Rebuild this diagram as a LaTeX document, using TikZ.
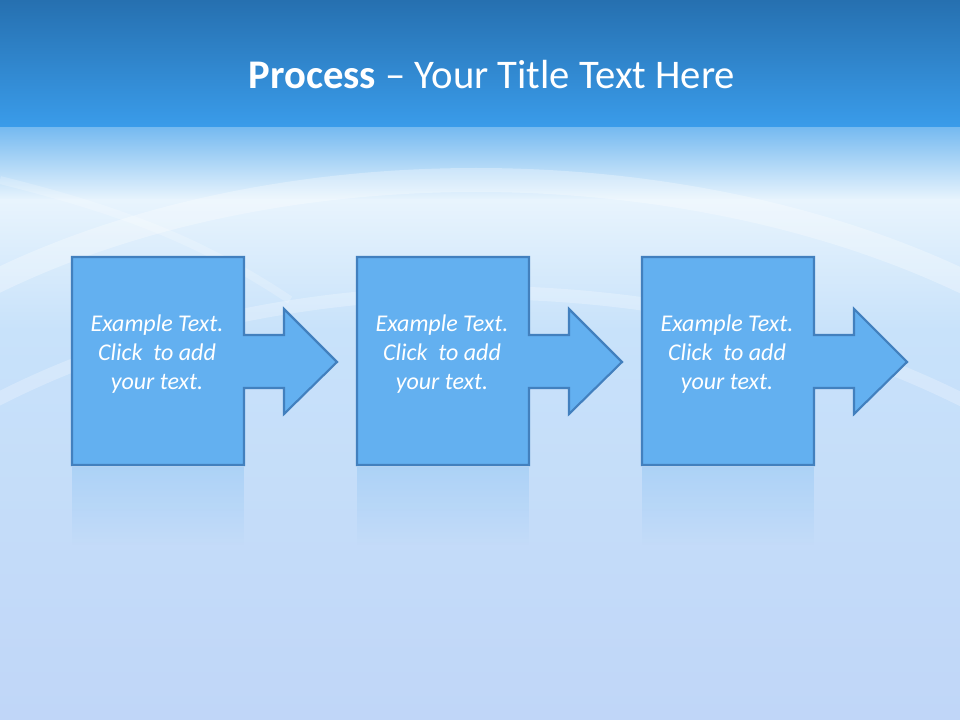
\documentclass[tikz,border=0pt]{standalone}
\usepackage{fontspec}
\setmainfont{Carlito}
\usetikzlibrary{positioning,fadings}

\definecolor{barTop}{RGB}{38,112,176}
\definecolor{barBottom}{RGB}{58,156,234}
\definecolor{skyPale}{RGB}{232,244,253}
\definecolor{skyMid}{RGB}{200,226,250}
\definecolor{skyLow}{RGB}{192,214,248}
\definecolor{stepFill}{RGB}{99,176,240}
\definecolor{stepLine}{RGB}{66,128,190}

\begin{document}
\begin{tikzpicture}[
    x=0.75pt, y=-0.75pt,
    stepshape/.style={fill=stepFill, draw=stepLine, line width=1.6pt, line join=miter},
    mirror/.style={fill=stepFill, opacity=0.25, path fading=south},
    steptext/.style={align=center, text=white, font=\fontsize{18}{21.7}\selectfont\itshape},
    title/.style={text=white, font=\fontsize{30.5}{36}\selectfont}
]
    % Background
    \useasboundingbox (0,0) rectangle (960,720);
    \shade[top color=barBottom!70!white, bottom color=skyPale] (0,127) rectangle (960,200);
    \shade[top color=skyPale, bottom color=skyMid] (0,200) rectangle (960,330);
    \shade[top color=skyMid, bottom color=skyLow] (0,330) rectangle (960,720);
    \shade[top color=barTop, bottom color=barBottom] (0,0) rectangle (960,127);

    % Soft arcs
    \draw[white, line width=18pt, opacity=0.3] (-40,300) .. controls (250,140) and (700,140) .. (1000,300);
    \draw[white, line width=10pt, opacity=0.25] (-40,420) .. controls (250,250) and (700,250) .. (1000,420);
    \draw[white, line width=6pt, opacity=0.2] (0,180) .. controls (120,210) and (200,240) .. (290,300);

    % Title
    \node[title] (heading) at (492,75) {\textbf{Process} -- Your Title Text Here};

    % Steps
    \foreach \dx/\name in {0/stepA, 285/stepB, 570/stepC} {
        \fill[mirror] (72+\dx,467) rectangle (244+\dx,545);
        \draw[stepshape] (72+\dx,257) -- (244+\dx,257) -- (244+\dx,335) -- (284+\dx,335)
            -- (284+\dx,309) -- (337+\dx,362) -- (284+\dx,414) -- (284+\dx,388)
            -- (244+\dx,388) -- (244+\dx,465) -- (72+\dx,465) -- cycle;
        \node[steptext] (\name) at (157+\dx,354) {Example Text.\\Click~ to add\\your text.};
    }
\end{tikzpicture}
\end{document}
